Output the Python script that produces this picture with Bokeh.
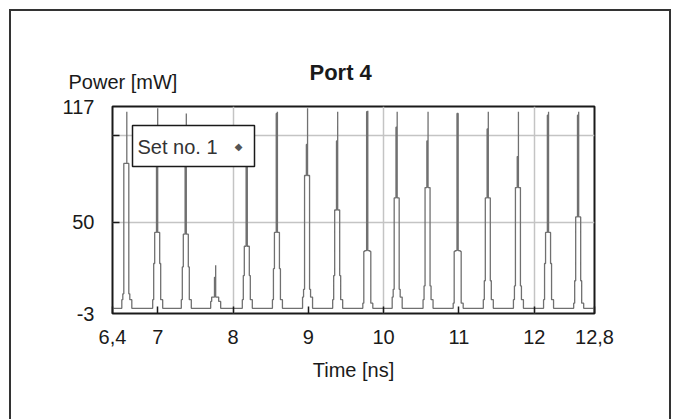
from bokeh.plotting import figure
from bokeh.models import FixedTicker, Label, BoxAnnotation
from bokeh.embed import file_html
from bokeh.resources import INLINE

# ---- data ----
pulse_times = [6.59, 7.00, 7.38, 7.77, 8.19, 8.59, 8.99, 9.39, 9.79, 10.18, 10.59, 10.99, 11.39, 11.79, 12.19, 12.59]
peaks       = [114, 116, 113, 25, 100, 114, 116, 114, 114.5, 114, 114, 113, 114, 114, 114, 114]
dark_top    = [84, 100, 100, 18, 95, 113, 95, 97, 114, 105, 97, 113, 104, 88, 112, 112]
hollow_top  = [84, 44, 43, 6.5, 36, 44, 77, 57, 33.5, 64, 70, 33.5, 64, 70, 44, 53]
wide_top    = [8.4, 26, 24, 6.5, 19, 23, 11, 19, 33, 11, 13, 33, 16, 13, 26, 16]
bump_top    = [5, 5, 5, 4, 5, 5, 6.5, 5, 3, 6.5, 5, 3, 5, 5, 5, 3]

x_ticks = [6.4, 7, 8, 9, 10, 11, 12, 12.8]
x_tick_labels = ["6,4", "7", "8", "9", "10", "11", "12", "12,8"]
y_ticks = [-3, 50, 117]
y_tick_labels = ["-3", "50", "117"]
y_tick_marks = [50, 100]
x_grid = [8, 10, 12]
y_grid = [50, 100]
x_min, x_max = 6.4, 12.8
y_min, y_max = -3, 117
baseline = 0
series_name = "Set no. 1"
title_text = "Port 4"
x_title = "Time [ns]"
y_title = "Power [mW]"

FONT = "Liberation Sans"
TXT = "#1a1a1a"

W, H = 673, 419
FL, FR, FT, FB = 112, 594, 106, 313   # frame edges in canvas pixels

# ---- build the trace (stepped narrow pulses on a baseline) ----
ns_per_px = (x_max - x_min) / (FR - FL)
xs, ys = [x_min], [baseline]
for t, pk, d, h, w, b in zip(pulse_times, peaks, dark_top, hollow_top, wide_top, bump_top):
    shape = [(-5, baseline), (-5, b), (-4, b), (-4, w), (-3, w), (-3, h), (-1.2, h), (-1.2, d),
             (0, d), (0, pk), (0, h), (2, h), (2, w), (3, w), (3, b), (5, b), (5, baseline)]
    for off, yv in shape:
        xs.append(t + off * ns_per_px)
        ys.append(yv)
xs.append(x_max)
ys.append(baseline)

p = figure(width=W, height=H, output_backend="svg", toolbar_location=None,
           x_range=(x_min, x_max), y_range=(y_min, y_max),
           min_border_left=FL, min_border_right=W - FR,
           min_border_top=FT, min_border_bottom=H - FB)
p.background_fill_color = "white"
p.border_fill_color = None
p.styles = {
    "background": ("linear-gradient(#333,#333) 9px 9px / 662px 2px no-repeat, "
                   "linear-gradient(#333,#333) 9px 9px / 2px 420px no-repeat, "
                   "linear-gradient(#333,#333) 669px 9px / 2px 420px no-repeat, #ffffff"),
}
p.outline_line_color = "#1a1a1a"
p.outline_line_width = 2

# grid
p.xgrid.ticker = FixedTicker(ticks=x_grid)
p.ygrid.ticker = FixedTicker(ticks=y_grid)
for g in (p.xgrid, p.ygrid):
    g.grid_line_color = "#c4c4c4"
    g.grid_line_width = 1.5

# x axis
xa = p.xaxis[0]
xa.ticker = FixedTicker(ticks=x_ticks)
xa.major_label_overrides = {t: s for t, s in zip(x_ticks, x_tick_labels)}
xa.major_tick_in = 7
xa.major_tick_out = 0
xa.major_tick_line_color = "#1a1a1a"
xa.major_tick_line_width = 1.5
xa.minor_tick_line_color = None
xa.axis_line_color = None
xa.major_label_standoff = 16
xa.major_label_text_font = FONT
xa.major_label_text_font_size = "20px"
xa.major_label_text_color = TXT
xa.axis_label = x_title
xa.axis_label_text_font = FONT
xa.axis_label_text_font_size = "20px"
xa.axis_label_text_font_style = "normal"
xa.axis_label_text_color = TXT
xa.axis_label_standoff = 12

# y axis
ya = p.yaxis[0]
ya.ticker = FixedTicker(ticks=y_ticks, minor_ticks=y_tick_marks)
ya.major_label_overrides = {t: s for t, s in zip(y_ticks, y_tick_labels)}
ya.major_tick_line_color = None
ya.minor_tick_in = 7
ya.minor_tick_out = 0
ya.minor_tick_line_color = "#1a1a1a"
ya.minor_tick_line_width = 1.5
ya.axis_line_color = None
ya.major_label_standoff = 12
ya.major_label_text_font = FONT
ya.major_label_text_font_size = "20px"
ya.major_label_text_color = TXT

# title
p.title.text = title_text
p.title.text_font = FONT
p.title.text_font_size = "22px"
p.title.text_font_style = "bold"
p.title.text_color = TXT
p.title.align = "left"
p.title.offset = 197
p.title.standoff = 0

# trace
p.line(xs, ys, line_color="#707070", line_width=1.3)

# y title (horizontal, top-left) in the panel above the frame
p.add_layout(Label(x=68 - FL, y=FT - 81, x_units="screen", y_units="screen", text=y_title,
                   text_font=FONT, text_font_size="20px", text_color=TXT,
                   text_baseline="middle", text_align="left"), "above")

# legend box with label then marker
p.add_layout(BoxAnnotation(left=132 - FL, right=254 - FL, top=FB - 125, bottom=FB - 166,
                           left_units="screen", right_units="screen",
                           top_units="screen", bottom_units="screen",
                           fill_color="white", fill_alpha=1.0,
                           line_color="#1a1a1a", line_width=1.5, line_alpha=1.0))
p.add_layout(Label(x=137 - FL, y=FB - 146, x_units="screen", y_units="screen", text=series_name,
                   text_font=FONT, text_font_size="20px", text_color="#333333",
                   text_baseline="middle", text_align="left"))
p.add_layout(Label(x=238 - FL, y=FB - 146, x_units="screen", y_units="screen", text="\u25c6",
                   text_font="DejaVu Sans", text_font_size="10px", text_color="#555555",
                   text_baseline="middle", text_align="center"))

open("out.html", "w").write(file_html(p, INLINE))
